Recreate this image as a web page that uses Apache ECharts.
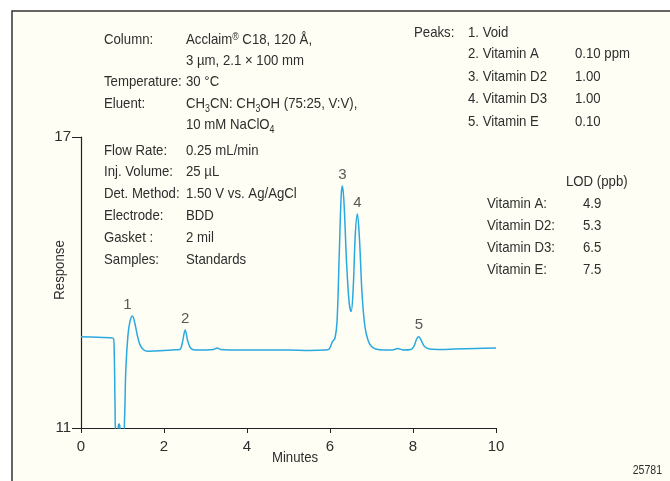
<!DOCTYPE html>
<html>
<head>
<meta charset="utf-8">
<script src="https://cdn.jsdelivr.net/npm/echarts@6/dist/echarts.min.js"></script>
<style>
html,body{margin:0;padding:0;background:#fff;}
#c{width:670px;height:481px;}
</style>
</head>
<body>
<div id="c"></div>
<script>
// chromatogram trace [minutes, response]
var trace = [
  [0, 12.88], [0.4, 12.87], [0.78, 12.85], [0.80, 12.6], [0.82, 11.5], [0.84, 10.8],
  [0.89, 10.8], [0.90, 11.05], [0.92, 11.08], [0.94, 11.0], [0.96, 10.8], [1.02, 10.8],
  [1.05, 11.2], [1.08, 12.2], [1.13, 12.9], [1.18, 13.2], [1.24, 13.31], [1.30, 13.15],
  [1.36, 12.9], [1.42, 12.72], [1.50, 12.62], [1.60, 12.58], [1.80, 12.59], [2.0, 12.60],
  [2.2, 12.61], [2.38, 12.62], [2.44, 12.75], [2.51, 13.02], [2.57, 12.8], [2.64, 12.65],
  [2.75, 12.61], [3.0, 12.61], [3.2, 12.62], [3.28, 12.65], [3.36, 12.62], [3.6, 12.61],
  [4.0, 12.61], [4.5, 12.61], [5.0, 12.61], [5.5, 12.60], [5.9, 12.61], [5.98, 12.63],
  [6.06, 12.78], [6.12, 12.85], [6.17, 13.2], [6.22, 14.5], [6.27, 15.8], [6.30, 15.99],
  [6.34, 15.6], [6.40, 14.4], [6.46, 13.6], [6.51, 13.40], [6.56, 13.9], [6.61, 15.0],
  [6.66, 15.41], [6.71, 14.9], [6.77, 13.8], [6.84, 13.1], [6.92, 12.8], [7.0, 12.68],
  [7.1, 12.63], [7.3, 12.61], [7.5, 12.61], [7.64, 12.64], [7.75, 12.61], [7.95, 12.62],
  [8.03, 12.70], [8.09, 12.84], [8.14, 12.88], [8.20, 12.80], [8.28, 12.68], [8.4, 12.63],
  [8.7, 12.62], [9.0, 12.63], [9.5, 12.64], [10, 12.65]
];
// peak labels at apex
var peakNames = ['1', '2', '3', '4', '5'];
var peakTimes = [1.24, 2.51, 6.30, 6.66, 8.14];
var peakValues = [13.31, 13.02, 15.99, 15.41, 12.88];

var conditionLabels = ['Column:', '', 'Temperature:', 'Eluent:', '', 'Flow Rate:', 'Inj. Volume:', 'Det. Method:', 'Electrode:', 'Gasket :', 'Samples:'];
var conditionValues = ['Acclaim{sup|®} C18, 120 Å,', '3 µm, 2.1 × 100 mm', '30 °C', 'CH{sub|3}CN: CH{sub|3}OH (75:25, V:V),', '10 mM NaClO{sub|4}', '0.25 mL/min', '25 µL', '1.50 V vs. Ag/AgCl', 'BDD', '2 mil', 'Standards'];
var conditionY = [40, 61, 82, 104, 125, 151, 172, 194, 216, 238, 260];

var peakList = ['1. Void', '2. Vitamin A', '3. Vitamin D2', '4. Vitamin D3', '5. Vitamin E'];
var peakConc = ['', '0.10 ppm', '1.00', '1.00', '0.10'];
var peakListY = [33, 54, 77, 99, 122];

var lodNames = ['Vitamin A:', 'Vitamin D2:', 'Vitamin D3:', 'Vitamin E:'];
var lodValues = ['4.9', '5.3', '6.5', '7.5'];
var lodY = [204, 226, 248, 270];

var FONT = '"Liberation Sans", Arial, sans-serif';
var TXT = '#2e2e2e';
var SX = 0.88;
var rich = {
  sub: {fontSize: 10, padding: [10, 0, 0, 0], fontFamily: FONT, fill: TXT, color: TXT},
  sup: {fontSize: 10, padding: [0, 0, 6, 0], fontFamily: FONT, fill: TXT, color: TXT}
};

function txt(x, y, s, opt) {
  opt = opt || {};
  var size = opt.size || 15;
  return {
    type: 'text', x: x, y: y, rotation: opt.rotation || 0, scaleX: SX, z: 10,
    style: {
      text: s, fill: opt.color || TXT, font: size + 'px ' + FONT,
      fontFamily: FONT, fontSize: size,
      textAlign: opt.align || 'left', textVerticalAlign: 'middle', verticalAlign: 'middle',
      rich: rich
    }
  };
}

var graphics = [
  {type: 'rect', shape: {x: 12, y: 11, width: 700, height: 500}, style: {fill: '#fefef4', stroke: '#333', lineWidth: 1.5}, z: -10}
];
conditionLabels.forEach(function (l, i) { if (l) graphics.push(txt(104, conditionY[i], l)); });
conditionValues.forEach(function (v, i) { graphics.push(txt(186, conditionY[i], v)); });
graphics.push(txt(414, 33, 'Peaks:'));
peakList.forEach(function (p, i) { graphics.push(txt(468, peakListY[i], p)); });
peakConc.forEach(function (p, i) { if (p) graphics.push(txt(575, peakListY[i], p)); });
graphics.push(txt(566, 182, 'LOD (ppb)'));
lodNames.forEach(function (n, i) { graphics.push(txt(487, lodY[i], n)); });
lodValues.forEach(function (v, i) { graphics.push(txt(583, lodY[i], v)); });
graphics.push(txt(295, 458, 'Minutes', {align: 'center'}));
graphics.push(txt(60, 270, 'Response', {align: 'center', rotation: Math.PI / 2}));
graphics.push(txt(662, 471, '25781', {align: 'right', size: 12}));

var peakPoints = peakNames.map(function (n, i) {
  return {name: n, value: [peakTimes[i], peakValues[i]], label: i === 0 ? {offset: [-5, 0]} : {}};
});

var chart = echarts.init(document.getElementById('c'));
chart.setOption({
  animation: false,
  backgroundColor: '#ffffff',
  grid: {left: 81, top: 137, width: 415, height: 291},
  xAxis: {
    type: 'value', min: 0, max: 10, interval: 2,
    axisLine: {lineStyle: {color: '#222', width: 1.2}},
    axisTick: {show: true, length: 5, lineStyle: {color: '#222'}},
    axisLabel: {color: TXT, fontSize: 15, fontFamily: FONT, margin: 11},
    splitLine: {show: false}
  },
  yAxis: {
    type: 'value', min: 11, max: 17, interval: 6,
    axisLine: {show: true, lineStyle: {color: '#222', width: 1.2}},
    axisTick: {show: true, length: 9, lineStyle: {color: '#222'}},
    axisLabel: {color: TXT, fontSize: 15, fontFamily: FONT, margin: 10},
    splitLine: {show: false}
  },
  series: [
    {
      type: 'line', data: trace, showSymbol: false, smooth: 0.35, clip: true,
      lineStyle: {color: '#2aa8e0', width: 1.5}, z: 3
    },
    {
      type: 'scatter', data: peakPoints, symbolSize: 0,
      label: {show: true, position: 'top', distance: 4, formatter: '{b}', color: TXT, fontSize: 15, fontFamily: FONT},
      z: 4
    }
  ],
  graphic: graphics
});
</script>
</body>
</html>
